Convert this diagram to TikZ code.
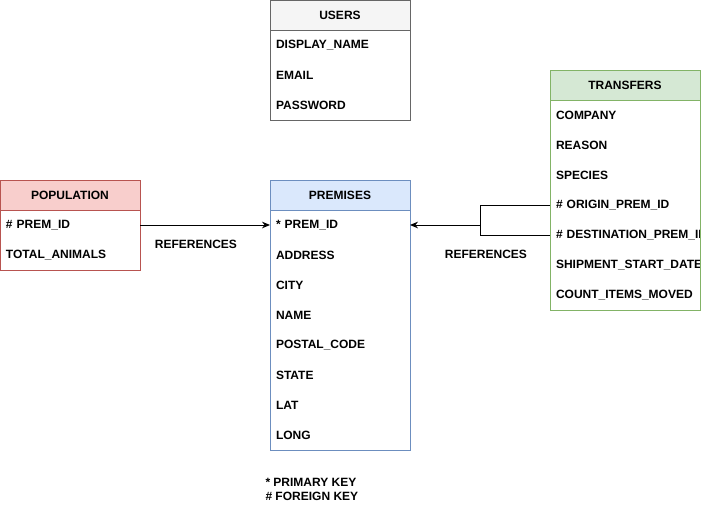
\documentclass[tikz,border=0pt]{standalone}
\usepackage{fontspec}
\setmainfont{Liberation Sans}
\usetikzlibrary{positioning, arrows.meta}

\definecolor{usersfill}{HTML}{F5F5F5}
\definecolor{usersline}{HTML}{666666}
\definecolor{popfill}{HTML}{F8CECC}
\definecolor{popline}{HTML}{B85450}
\definecolor{premfill}{HTML}{DAE8FC}
\definecolor{premline}{HTML}{6C8EBF}
\definecolor{transfill}{HTML}{D5E8D4}
\definecolor{transline}{HTML}{82B366}

\begin{document}
\begin{tikzpicture}[x=0.75pt, y=-0.75pt, line width=0.75pt, >={Stealth[length=6pt, width=5pt]}, font=\fontsize{9}{11}\selectfont\bfseries]
    % Define block styles
    \tikzstyle{header} = [rectangle, draw, minimum width=105pt, minimum height=22.5pt, inner sep=0pt, outer sep=0pt]
    \tikzstyle{wideheader} = [header, minimum width=112.5pt]
    \tikzstyle{field} = [rectangle, minimum width=105pt, minimum height=22.5pt, text width=96pt, inner xsep=4.5pt, inner ysep=0pt, outer sep=0pt, align=left]
    \tikzstyle{widefield} = [field, minimum width=112.5pt, text width=103.5pt]

    \useasboundingbox (0,0) rectangle (701,511);

    % Place USERS table
    \node [header, fill=usersfill, draw=usersline] (users) at (340,15) {USERS};
    \node [field, below=0pt of users] (dname) {DISPLAY\_NAME};
    \node [field, below=0pt of dname] (email) {EMAIL};
    \node [field, below=0pt of email] (password) {PASSWORD};
    \draw [usersline] (dname.north west) rectangle (password.south east);

    % Place POPULATION table
    \node [header, fill=popfill, draw=popline] (population) at (70,195) {POPULATION};
    \node [field, below=0pt of population] (popid) {\# PREM\_ID};
    \node [field, below=0pt of popid] (animals) {TOTAL\_ANIMALS};
    \draw [popline] (popid.north west) rectangle (animals.south east);

    % Place PREMISES table
    \node [header, fill=premfill, draw=premline] (premises) at (340,195) {PREMISES};
    \node [field, below=0pt of premises] (premid) {* PREM\_ID};
    \node [field, below=0pt of premid] (address) {ADDRESS};
    \node [field, below=0pt of address] (city) {CITY};
    \node [field, below=0pt of city] (name) {NAME};
    \node [field, below=0pt of name] (postal) {POSTAL\_CODE};
    \node [field, below=0pt of postal] (state) {STATE};
    \node [field, below=0pt of state] (lat) {LAT};
    \node [field, below=0pt of lat] (long) {LONG};
    \draw [premline] (premid.north west) rectangle (long.south east);

    % Place TRANSFERS table
    \node [wideheader, fill=transfill, draw=transline] (transfers) at (625,85) {TRANSFERS};
    \begin{scope}
        \clip (550,100) rectangle (700,310);
        \node [widefield, below=0pt of transfers] (company) {COMPANY};
        \node [widefield, below=0pt of company] (reason) {REASON};
        \node [widefield, below=0pt of reason] (species) {SPECIES};
        \node [widefield, below=0pt of species] (origin) {\# ORIGIN\_PREM\_ID};
        \node [widefield, below=0pt of origin] (destination) {\mbox{\# DESTINATION\_PREM\_ID}};
        \node [widefield, below=0pt of destination] (shipment) {\mbox{SHIPMENT\_START\_DATE}};
        \node [widefield, below=0pt of shipment] (count) {\mbox{COUNT\_ITEMS\_MOVED}};
    \end{scope}
    \draw [transline] (company.north west) rectangle (count.south east);

    % Draw connections as arrows
    \draw [->] (popid.east) -- (premid.west);
    \coordinate (join) at (480,225);
    \draw (origin.west) -| (join);
    \draw (destination.west) -| (join);
    \draw [->] (join) -- (premid.east);

    % Add text on the arrows
    \node (popref) at (196,244) {REFERENCES};
    \node (transref) at (486,254) {REFERENCES};

    % Legend
    \node [anchor=west, inner sep=0pt] (primary) at (265,482) {* PRIMARY KEY};
    \node [anchor=west, inner sep=0pt] (foreign) at (265,496) {\# FOREIGN KEY};
\end{tikzpicture}
\end{document}
